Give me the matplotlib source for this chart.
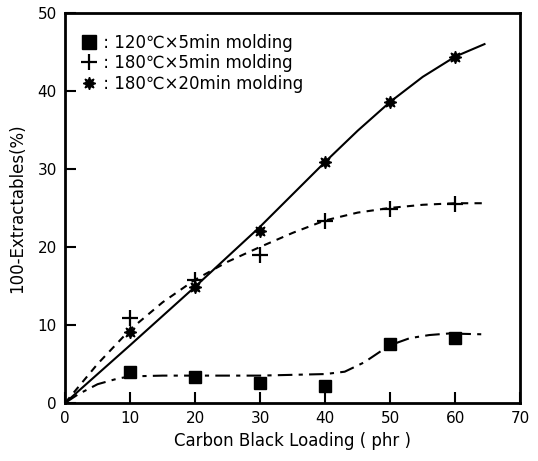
import matplotlib
matplotlib.use('Agg')
import matplotlib.pyplot as plt
from matplotlib.lines import Line2D

# measured points
loading = [10, 20, 30, 40, 50, 60]
ext_120_5 = [4.0, 3.3, 2.6, 2.2, 7.6, 8.3]
ext_180_5 = [10.9, 15.7, 18.9, 23.3, 24.8, 25.5]
ext_180_20 = [9.1, 14.8, 22.1, 30.9, 38.6, 44.4]

# hand-drawn trend curves
fit_x_120_5 = [0, 2, 5, 8, 10, 15, 20, 30, 40, 43, 46, 48.5, 50, 53, 56, 59, 64]
fit_y_120_5 = [0, 1.1, 2.4, 3.1, 3.4, 3.5, 3.5, 3.5, 3.7, 4.0, 5.2, 6.6, 7.4, 8.3, 8.7, 8.9, 8.8]
fit_x_180_5 = [0, 5, 10, 15, 20, 25, 30, 35, 40, 45, 50, 55, 60, 64.5]
fit_y_180_5 = [0, 5.0, 9.4, 12.9, 15.8, 18.1, 20.0, 21.8, 23.4, 24.4, 25.0, 25.4, 25.6, 25.6]
fit_x_180_20 = [0, 10, 20, 30, 40, 45, 50, 55, 60, 64.5]
fit_y_180_20 = [0, 7.4, 14.9, 22.6, 30.9, 34.9, 38.6, 41.8, 44.4, 46.0]

labels = [' : 120℃×5min molding', ' : 180℃×5min molding', ' : 180℃×20min molding']

fig = plt.figure(figsize=(5.38, 4.61), dpi=100)
ax = fig.add_axes([0.121, 0.126, 0.846, 0.846])

star = (8, 1, 0)
ax.plot(fit_x_120_5, fit_y_120_5, color='k', lw=1.5, dashes=(7, 3, 2, 3))
ax.plot(fit_x_180_5, fit_y_180_5, color='k', lw=1.5, dashes=(3.5, 3))
ax.plot(fit_x_180_20, fit_y_180_20, color='k', lw=1.5)
ax.plot(loading, ext_120_5, 's', color='k', ms=9, ls='none')
ax.plot(loading, ext_180_5, '+', color='k', ms=11, mew=1.6, ls='none')
ax.plot(loading, ext_180_20, marker=star, color='k', ms=9, ls='none')

ax.set_xlim(0, 70)
ax.set_ylim(0, 50)
ax.set_xticks(range(0, 80, 10))
ax.set_yticks(range(0, 60, 10))
ax.tick_params(direction='in', length=8, width=1.5, labelsize=11, pad=6)
for s in ax.spines.values():
    s.set_linewidth(2)

ax.set_xlabel('Carbon Black Loading ( phr )', fontsize=12, labelpad=4)
ax.set_ylabel('100-Extractables(%)', fontsize=12, labelpad=8)

handles = [Line2D([], [], marker='s', color='k', ms=10, ls='none'),
           Line2D([], [], marker='+', color='k', ms=11, mew=1.6, ls='none'),
           Line2D([], [], marker=star, color='k', ms=9, ls='none')]
ax.legend(handles, labels, loc='upper left', frameon=False, fontsize=12,
          handlelength=0.8, handletextpad=0.15, labelspacing=0.15,
          bbox_to_anchor=(0.005, 0.985))

fig.savefig('out.png', dpi=100)
